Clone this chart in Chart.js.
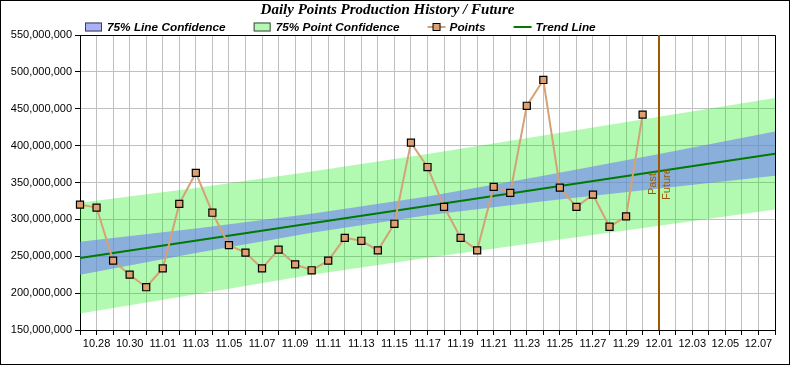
<!DOCTYPE html>
<html><head><meta charset="utf-8">
<script src="https://cdn.jsdelivr.net/npm/chart.js@4/dist/chart.umd.min.js"></script>
<style>html,body{margin:0;padding:0;background:#fff}canvas{display:block}</style>
</head><body>
<canvas id="c" width="790" height="365"></canvas>
<script>
// ---- data ----
const dateLabels = ['10.27','10.28','10.29','10.30','10.31',
  '11.01','11.02','11.03','11.04','11.05','11.06','11.07','11.08','11.09','11.10',
  '11.11','11.12','11.13','11.14','11.15','11.16','11.17','11.18','11.19','11.20',
  '11.21','11.22','11.23','11.24','11.25','11.26','11.27','11.28','11.29','11.30',
  '12.01','12.02','12.03','12.04','12.05','12.06','12.07','12.08'];
const pointsValues = [320e6, 316e6, 244e6, 225e6, 208e6, 233.5e6, 321e6, 363e6, 309e6, 265e6,
  255e6, 233.5e6, 259e6, 239e6, 231e6, 244e6, 275e6, 271e6, 258e6, 294e6,
  404e6, 371e6, 317e6, 275e6, 258e6, 344e6, 336e6, 454e6, 489e6, 343e6,
  317e6, 333.5e6, 290e6, 304e6, 442e6];
const trendDates = ['10.27', '12.08'];
const trendValues = [247.5e6, 389e6];
const bandDates = ['10.27','11.03','11.10','11.17','11.24','12.01','12.08'];
const lineConfUpper = [269.5e6, 287.5e6, 307.5e6, 331e6, 359e6, 388.5e6, 419e6];
const lineConfLower = [225e6, 254.5e6, 282e6, 305.5e6, 324.5e6, 342e6, 359e6];
const pointConfUpper = [322.5e6, 342.5e6, 364.8e6, 388.8e6, 413.8e6, 439.3e6, 464.5e6];
const pointConfLower = [172.5e6, 198.5e6, 224.8e6, 247.8e6, 269.8e6, 291.3e6, 313.5e6];
const futureDate = '12.01';
const markerTexts = ['Past', 'Future'];
const yMin = 150e6, yMax = 550e6, yStep = 50e6;
const titleText = 'Daily Points Production History / Future';
const seriesNames = ['75% Line Confidence', '75% Point Confidence', 'Points', 'Trend Line'];

// ---- styles ----
const C = {
  pointsLine: 'rgb(212,162,116)', pointsFill: 'rgb(222,160,112)',
  trend: '#007a00',
  lineBand: 'rgba(111,125,246,0.6)', pointBand: 'rgba(0,235,0,0.3)',
  future: '#9c5a00', grid: '#c0c0c0'
};
const pairs = (xs, ys) => xs.map((x, i) => ({x: x, y: ys[i]}));

const framePlugin = {
  id: 'frame',
  beforeDraw(chart) {
    const ctx = chart.ctx; ctx.save(); ctx.fillStyle = '#fff';
    ctx.fillRect(0, 0, chart.width, chart.height); ctx.restore();
  },
  beforeDatasetsDraw(chart) {
    const {ctx, chartArea: a} = chart;
    ctx.save(); ctx.strokeStyle = '#000'; ctx.lineWidth = 1; ctx.beginPath();
    ctx.moveTo(a.left, a.top + 0.5); ctx.lineTo(a.right + 0.5, a.top + 0.5);
    ctx.lineTo(a.right + 0.5, a.bottom); ctx.stroke(); ctx.restore();
  },
  afterDatasetsDraw(chart) {
    const {ctx, chartArea: a} = chart;
    const x = Math.round(chart.scales.x.getPixelForValue(dateLabels.indexOf(futureDate)));
    ctx.save();
    ctx.strokeStyle = C.future; ctx.lineWidth = 2; ctx.beginPath();
    ctx.moveTo(x, a.top); ctx.lineTo(x, a.bottom); ctx.stroke();
    ctx.fillStyle = C.future; ctx.font = '11px "Liberation Sans", Arial, sans-serif';
    ctx.textAlign = 'center'; ctx.textBaseline = 'middle';
    const yc = (a.top + a.bottom) / 2 + 1.5;
    [[markerTexts[0], x - 6.5], [markerTexts[1], x + 7.7]].forEach(([t, tx]) => {
      ctx.save(); ctx.translate(tx, yc); ctx.rotate(-Math.PI / 2); ctx.fillText(t, 0, 0); ctx.restore();
    });
    ctx.restore();
  },
  afterDraw(chart) {
    const ctx = chart.ctx;
    ctx.save();
    // legend
    ctx.font = 'italic bold 11.8px "Liberation Sans", Arial, sans-serif';
    ctx.textBaseline = 'middle'; ctx.textAlign = 'left';
    const y = 27; let x = 85;
    const kinds = [
      {type: 'box', fill: 'rgb(169,177,250)'},
      {type: 'box', fill: 'rgb(179,249,179)'},
      {type: 'marker'},
      {type: 'line'}
    ];
    seriesNames.forEach((name, i) => {
      const k = kinds[i];
      if (k.type === 'box') {
        ctx.fillStyle = k.fill; ctx.fillRect(x, y - 4.5, 17, 9);
        ctx.strokeStyle = '#404040'; ctx.lineWidth = 1; ctx.strokeRect(x + 0.5, y - 4, 16, 8);
      } else {
        ctx.strokeStyle = k.type === 'marker' ? C.pointsLine : C.trend; ctx.lineWidth = 2;
        ctx.beginPath(); ctx.moveTo(x, y); ctx.lineTo(x + 18, y); ctx.stroke();
        if (k.type === 'marker') {
          ctx.fillStyle = C.pointsFill; ctx.fillRect(x + 5.5, y - 3.5, 7, 7);
          ctx.strokeStyle = '#000'; ctx.lineWidth = 1; ctx.strokeRect(x + 5.5, y - 3.5, 7, 7);
        }
      }
      ctx.fillStyle = '#000'; ctx.fillText(name, x + 22, y + 0.5);
      x += 22 + ctx.measureText(name).width + 28;
    });
    // outer frame
    ctx.strokeStyle = '#000'; ctx.lineWidth = 1;
    ctx.strokeRect(0.5, 0.5, chart.width - 1, chart.height - 1);
    ctx.restore();
  }
};

Chart.defaults.font.family = '"Liberation Sans", Arial, sans-serif';
Chart.defaults.font.size = 11;
Chart.defaults.color = '#000';

new Chart(document.getElementById('c'), {
  type: 'line',
  data: {
    labels: dateLabels,
    datasets: [
      {label: seriesNames[2], data: pointsValues, borderColor: C.pointsLine, borderWidth: 2,
       pointStyle: 'rect', pointRadius: 5, pointBackgroundColor: C.pointsFill,
       pointBorderColor: '#000', pointBorderWidth: 1.2, fill: false, tension: 0},
      {label: seriesNames[3], data: pairs(trendDates, trendValues), borderColor: C.trend,
       borderWidth: 2, pointRadius: 0, fill: false},
      {label: seriesNames[0], data: pairs(bandDates, lineConfUpper), borderWidth: 0,
       borderColor: 'rgba(0,0,0,0)', backgroundColor: C.lineBand, pointRadius: 0, fill: '+1'},
      {label: seriesNames[0] + ' low', data: pairs(bandDates, lineConfLower), borderWidth: 0,
       borderColor: 'rgba(0,0,0,0)', pointRadius: 0, fill: false},
      {label: seriesNames[1], data: pairs(bandDates, pointConfUpper), borderWidth: 0,
       borderColor: 'rgba(0,0,0,0)', backgroundColor: C.pointBand, pointRadius: 0, fill: '+1'},
      {label: seriesNames[1] + ' low', data: pairs(bandDates, pointConfLower), borderWidth: 0,
       borderColor: 'rgba(0,0,0,0)', pointRadius: 0, fill: false}
    ]
  },
  options: {
    responsive: false, animation: false, events: [],
    layout: {padding: {left: 0, right: 15, top: 0, bottom: 0}},
    plugins: {
      legend: {display: false}, tooltip: {enabled: false},
      title: {display: true, text: titleText, color: '#000',
        font: {family: '"Liberation Serif", "Times New Roman", serif', size: 15, style: 'italic', weight: 'bold', lineHeight: 1.2},
        padding: {top: 1.4, bottom: 15.6}}
    },
    scales: {
      x: {
        type: 'category', offset: false,
        grid: {color: C.grid, tickColor: '#000', tickLength: 5, drawTicks: true, offset: false},
        border: {display: true, color: '#000', width: 1},
        ticks: {autoSkip: false, maxRotation: 0, minRotation: 0, padding: 2,
          callback: (v, i) => (i % 2 === 1 ? dateLabels[i] : '')},
        afterFit: s => { s.height = 35; }
      },
      y: {
        min: yMin, max: yMax,
        grid: {color: C.grid, tickColor: '#000', tickLength: 5, drawTicks: true},
        border: {display: true, color: '#000', width: 1},
        ticks: {stepSize: yStep, padding: 3, callback: v => v.toLocaleString('en-US')},
        afterFit: s => { s.width = 80; }
      }
    }
  },
  plugins: [framePlugin]
});
</script>
</body></html>
